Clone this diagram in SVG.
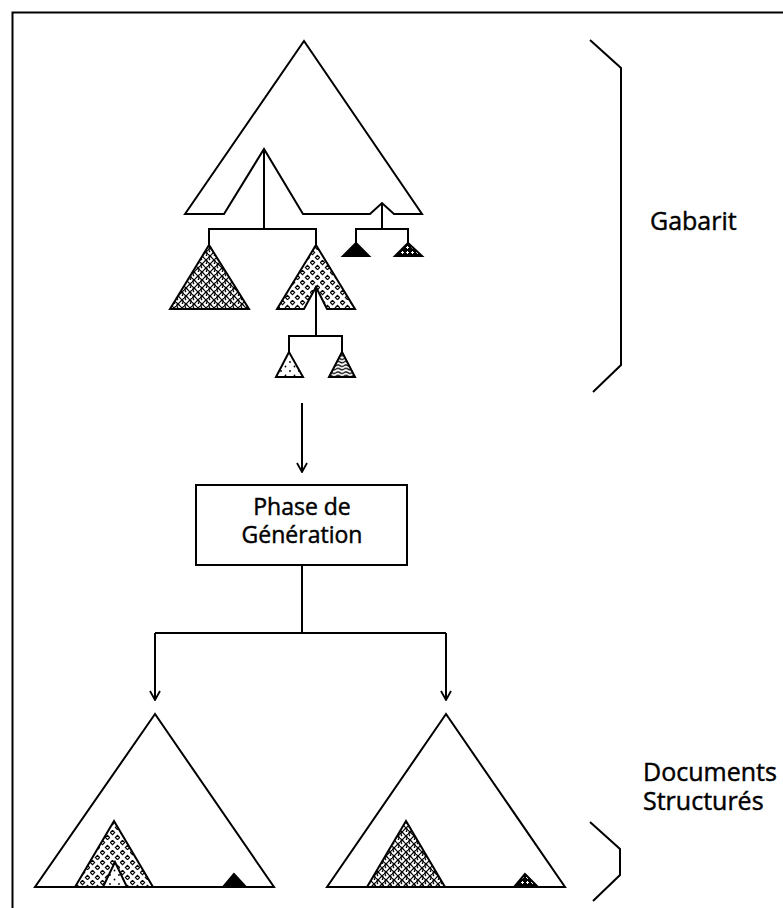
<svg xmlns="http://www.w3.org/2000/svg" width="783" height="908" viewBox="0 0 783 908">
  <style>
    .ln { fill: none; stroke: #000; stroke-width: 2; stroke-linejoin: miter; }
    .tri { stroke: #000; stroke-width: 2; stroke-linejoin: miter; }
    .lbl { font-family: "Open Sans", "Noto Sans", "Liberation Sans", sans-serif; font-weight: 400; fill: #000; stroke: #000; stroke-width: 0.45; }
    .box { font-size: 23px; }
    .side { font-size: 25px; }
  </style>
  <defs>
    <!-- dense curly texture -->
    <pattern id="pCurl" width="8" height="8" patternUnits="userSpaceOnUse">
      <rect width="8" height="8" fill="#fff"/>
      <path d="M0 2 q2 -3 4 0 t4 0 M0 6 q2 3 4 0 t4 0 M2 0 q-2 2 0 4 M6 4 q2 2 0 4" fill="none" stroke="#000" stroke-width="1.3"/>
    </pattern>
    <!-- small diamonds with a dot -->
    <pattern id="pDiamond" width="10" height="10" patternUnits="userSpaceOnUse">
      <rect width="10" height="10" fill="#fff"/>
      <path d="M2.5 0.3 L4.7 2.5 L2.5 4.7 L0.3 2.5 Z M7.5 5.3 L9.7 7.5 L7.5 9.7 L5.3 7.5 Z" fill="none" stroke="#000" stroke-width="1.1"/>
    </pattern>
    <!-- sparse dots -->
    <pattern id="pDots" width="9" height="9" patternUnits="userSpaceOnUse">
      <rect width="9" height="9" fill="#fff"/>
      <circle cx="2" cy="2" r="0.9" fill="#000"/>
      <circle cx="6.5" cy="6.5" r="0.9" fill="#000"/>
    </pattern>
    <!-- horizontal waves -->
    <pattern id="pWave" width="8" height="3.5" patternUnits="userSpaceOnUse">
      <rect width="8" height="3.5" fill="#fff"/>
      <path d="M0 1.7 q2 -1.6 4 0 t4 0" fill="none" stroke="#000" stroke-width="1.3"/>
    </pattern>
    <!-- fine crosses -->
    <pattern id="pCross" width="5" height="5" patternUnits="userSpaceOnUse">
      <rect width="5" height="5" fill="#000"/>
      <path d="M2.5 1 V4 M1 2.5 H4" stroke="#fff" stroke-width="1"/>
    </pattern>
    <!-- open V arrowhead, drawn along +x -->
    <marker id="arr" viewBox="0 0 12 12" refX="11" refY="6" markerWidth="12" markerHeight="12" markerUnits="userSpaceOnUse" orient="auto">
      <path d="M2 1 L11 6 L2 11" fill="none" stroke="#000" stroke-width="1.8"/>
    </marker>
  </defs>

  <rect width="783" height="908" fill="#fff"/>

  <!-- frame -->
  <path class="ln" d="M12.5 908 V12.5 H783"/>

  <!-- template tree -->
  <g id="gabarit">
    <path class="ln" fill="#fff" d="M185 214 L304 41 L422 214 L394 214 L382 203 L370 214 L303 214 L264 149 L224 214 Z"/>
    <path class="ln" d="M264 149 V229 M209 245 V229 H316 V245 M382 203 V229 M356 243 V229 H408 V243"/>
    <polygon class="tri" fill="url(#pCurl)" points="209,245 170,309 249,309"/>
    <path class="tri" fill="url(#pDiamond)" d="M316 245 L355 309 L327 309 L316 287 L304 309 L277 309 Z"/>
    <path class="ln" d="M316 287 V336 M289 352 V336 H342 V352"/>
    <polygon class="tri" fill="url(#pDots)" points="289,352 276,377 303,377"/>
    <polygon class="tri" fill="url(#pWave)" points="342,352 329,377 355,377"/>
    <polygon class="tri" fill="#000" points="356,243 343,256 369,256"/>
    <polygon class="tri" fill="url(#pCross)" points="408,243 395,256 422,256"/>
  </g>

  <!-- generation phase -->
  <g id="generation">
    <rect class="ln" x="196" y="485" width="211" height="80"/>
    <text class="lbl box" x="302" y="515" text-anchor="middle">Phase de</text>
    <text class="lbl box" x="302" y="543" text-anchor="middle">Génération</text>
  </g>

  <!-- structured document 1 -->
  <g id="doc1">
    <polygon class="tri" fill="#fff" points="155,714 35,887 274,887"/>
    <polygon class="tri" fill="url(#pDiamond)" points="114,821 75,887 153,887"/>
    <polygon class="tri" fill="url(#pDots)" points="115,862 103,887 127,887"/>
    <polygon class="tri" fill="#000" points="234,874 223,887 246,887"/>
  </g>

  <!-- structured document 2 -->
  <g id="doc2">
    <polygon class="tri" fill="#fff" points="446,714 327,887 565,887"/>
    <polygon class="tri" fill="url(#pCurl)" points="406,821 367,887 445,887"/>
    <polygon class="tri" fill="url(#pCross)" points="525,874 514,887 538,887"/>
  </g>

  <!-- braces and labels -->
  <g id="brace-gabarit">
    <polyline class="ln" points="590,40 621,68 621,365 593,392"/>
    <text class="lbl side" x="650" y="230">Gabarit</text>
  </g>
  <g id="brace-documents">
    <polyline class="ln" points="590,822 620,849 620,875 593,901"/>
    <text class="lbl side" x="643" y="781">Documents</text>
    <text class="lbl side" x="643" y="810">Structurés</text>
  </g>

  <!-- connectors -->
  <g id="connectors">
    <line class="ln" x1="302" y1="403" x2="302" y2="472" marker-end="url(#arr)"/>
    <path class="ln" d="M302 565 V633 M155 633 H446"/>
    <line class="ln" x1="155" y1="633" x2="155" y2="700" marker-end="url(#arr)"/>
    <line class="ln" x1="446" y1="633" x2="446" y2="700" marker-end="url(#arr)"/>
  </g>
</svg>
